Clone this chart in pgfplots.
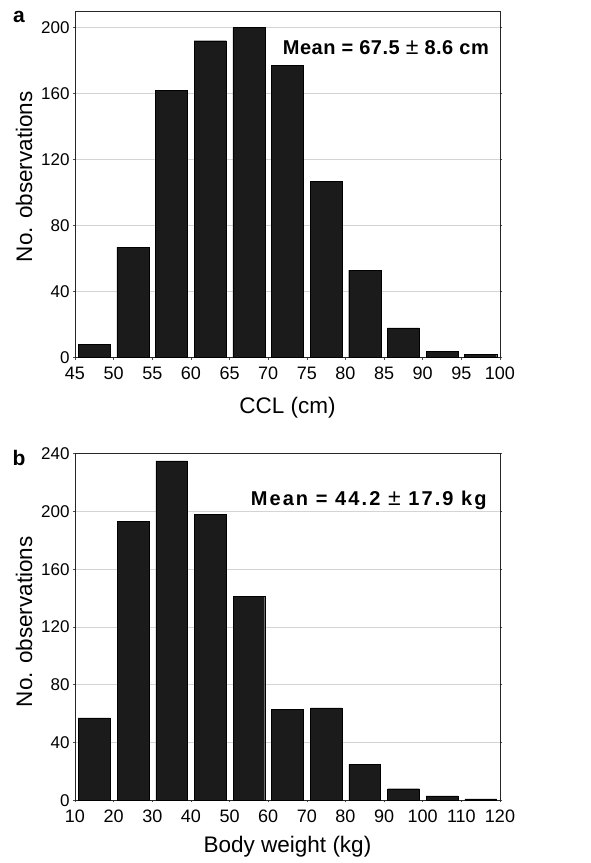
\documentclass[border=0pt]{standalone}
\usepackage{fontspec}
\setmainfont{Liberation Sans}
\usepackage{pgfplots}
\pgfplotsset{compat=1.18}
\definecolor{barfill}{HTML}{1B1B1B}
\definecolor{gridgray}{HTML}{D4D4D4}

\pgfplotsset{histo/.style={
    scale only axis,
    width=425pt,
    height=346.7pt,
    anchor=south west,
    ybar,
    ymin=0,
    ytick distance=40,
    ymajorgrids=true,
    grid style={gridgray,line width=0.7pt},
    axis line style={black!85,line width=0.8pt},
    tick align=outside,
    major tick length=2pt,
    tick style={black!70,line width=0.6pt},
    xtick pos=bottom,
    ytick pos=both,
    yticklabel style={font=\fontsize{17}{17}\selectfont},
    xticklabel style={font=\fontsize{18}{18}\selectfont,yshift=-4pt},
    /pgf/number format/assume math mode=true,
    scaled ticks=false,
    label style={font=\fontsize{22.5}{22.5}\selectfont},
    xlabel style={anchor=base},
}}

\begin{document}
\begin{tikzpicture}
\path[use as bounding box] (0,0) rectangle (591pt,863pt);

% panel a
\begin{axis}[histo,
    at={(75pt,505.3pt)},
    xmin=45, xmax=100,
    xtick={45,50,...,100},
    ymax=210,
    bar width=4.15,
    xlabel={CCL (cm)},
    ylabel={No. observations},
    xlabel style={at={(axis description cs:0.5,-0.16)}},
    ylabel style={at={(axis description cs:-0.12,0.522)},anchor=center},
]
\addplot[fill=barfill,draw=black,line width=0.4pt] coordinates {
    (47.5,8) (52.5,67) (57.5,162) (62.5,192) (67.5,200) (72.5,177)
    (77.5,107) (82.5,53) (87.5,18) (92.5,4) (97.5,2)
};
\node[anchor=east,font=\bfseries\fontsize{20}{20}\selectfont\addfontfeature{LetterSpace=2.5}]
    at (rel axis cs:0.982,0.893) {Mean = 67.5 {\mdseries\fontsize{23}{23}\selectfont ±} 8.6 cm};
\end{axis}
\node[font=\bfseries\fontsize{21}{21}\selectfont] at (19pt,846pt) {a};

% panel b
\begin{axis}[histo,
    at={(75pt,62.7pt)},
    xmin=10, xmax=120,
    xtick={10,20,...,120},
    ymax=240,
    bar width=8.2,
    xlabel={Body weight (kg)},
    ylabel={No. observations},
    xlabel style={at={(axis description cs:0.5,-0.152)}},
    ylabel style={at={(axis description cs:-0.12,0.515)},anchor=center},
]
\addplot[fill=barfill,draw=black,line width=0.4pt] coordinates {
    (15,57) (25,193) (35,235) (45,198) (55,141) (65,63)
    (75,64) (85,25) (95,8) (105,3) (115,1)
};
\node[anchor=east,font=\bfseries\fontsize{20}{20}\selectfont\addfontfeature{LetterSpace=10.5}]
    at (rel axis cs:0.977,0.865) {Mean = 44.2 {\mdseries\fontsize{23}{23}\selectfont ±} 17.9 kg};
\end{axis}
\node[font=\bfseries\fontsize{21}{21}\selectfont] at (19pt,405pt) {b};
\end{tikzpicture}
\end{document}
